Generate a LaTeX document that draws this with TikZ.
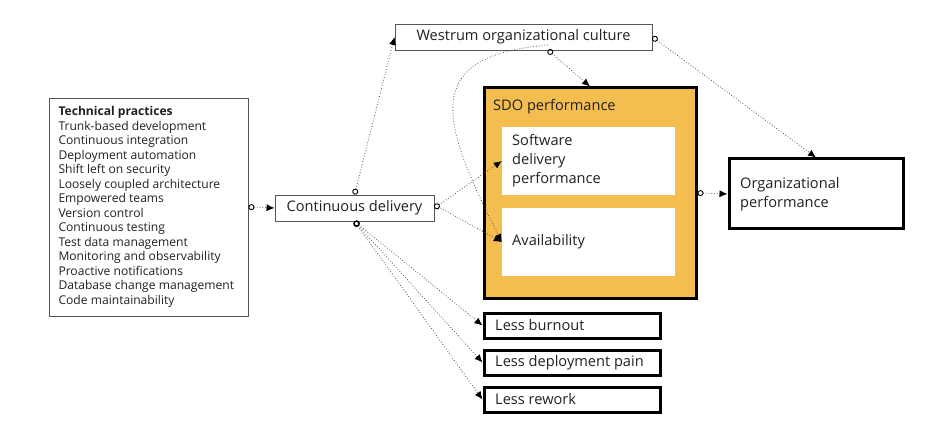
\documentclass[tikz,border=0pt]{standalone}
\usepackage{fontspec}
\setmainfont{Open Sans}
\usetikzlibrary{arrows.meta,calc}
\definecolor{sdo}{HTML}{F3BE4F}
\definecolor{txt}{HTML}{202124}
\definecolor{thin}{HTML}{555555}
\definecolor{conn}{HTML}{555555}
\begin{document}
\begin{tikzpicture}[x=1pt,y=-1pt,
  thinbox/.style={draw=thin,line width=0.9pt,fill=white,inner sep=0pt,text=txt},
  thickbox/.style={draw=black,line width=3pt,fill=white,inner sep=0pt,text=txt},
  conn/.style={draw=conn,line width=0.8pt,dash pattern=on 0.8pt off 2pt,
     {Circle[open,length=6pt,width=6pt,line width=0.9pt,black]}-{Latex[length=8pt,width=7pt,black]}},
  connb/.style={draw=conn,line width=0.8pt,dash pattern=on 0.8pt off 2pt,
     -{Latex[length=8pt,width=7pt,black]}},
  every node/.style={font=\fontsize{14.6}{19}\selectfont}]
\useasboundingbox (0,0) rectangle (925,435);
% technical practices
\node[thinbox,minimum width=199pt,minimum height=218pt,align=left,
  font=\fontsize{12.1}{14.5}\selectfont] (tech) at (148.5,207)
  {\begin{minipage}{180pt}\textbf{Technical practices}\\Trunk-based development\\Continuous integration\\Deployment automation\\Shift left on security\\Loosely coupled architecture\\Empowered teams\\Version control\\Continuous testing\\Test data management\\Monitoring and observability\\Proactive notifications\\Database change management\\Code maintainability\end{minipage}};
\node[thinbox,minimum width=159pt,minimum height=26pt] (cd) at (354.5,208) {Continuous delivery};
\node[thinbox,minimum width=257pt,minimum height=26pt] (west) at (523.5,37) {Westrum organizational culture};
% SDO
\node[draw=black,line width=3pt,fill=sdo,minimum width=212pt,minimum height=210pt,inner sep=0pt] (sdo) at (590,193) {};
\node[anchor=west,text=txt,inner sep=0pt] (sdol) at (493,107) {SDO performance};
\node[fill=white,minimum width=173pt,minimum height=68pt,inner sep=0pt] (sw) at (588.5,161) {};
\node[anchor=west,text=txt,align=left,inner sep=0pt] (swl) at (512,161) {Software\\delivery\\performance};
\node[fill=white,minimum width=173pt,minimum height=68pt,inner sep=0pt] (av) at (588.5,242) {};
\node[anchor=west,text=txt,inner sep=0pt] (avl) at (512,242) {Availability};
% organizational performance
\node[thickbox,minimum width=174pt,minimum height=70pt] (org) at (816,194) {};
\node[anchor=west,text=txt,align=left,inner sep=0pt] (orgl) at (740,194) {Organizational\\performance};
% outcomes
\node[thickbox,minimum width=176pt,minimum height=25pt] (lb) at (572,325.5) {};
\node[anchor=west,text=txt,inner sep=0pt] at (495,325.5) {Less burnout};
\node[thickbox,minimum width=176pt,minimum height=25pt] (ld) at (572,362.5) {};
\node[anchor=west,text=txt,inner sep=0pt] at (495,362.5) {Less deployment pain};
\node[thickbox,minimum width=176pt,minimum height=25pt] (lr) at (572,399.5) {};
\node[anchor=west,text=txt,inner sep=0pt] at (495,399.5) {Less rework};
% connectors
\draw[conn] (tech.east) -- (cd.west);
\draw[conn] (cd.north) -- (west.west);
\coordinate (wS) at (548,50);
\draw[conn] (wS) -- (sdo.north);
\draw[connb] ([yshift=5pt]wS) .. controls (420,56) and (440,120) .. (av.west);
\draw[conn] (west.east) -- (org.north);
\draw[conn] (cd.east) -- (sw.west);
\draw[connb] ([xshift=6pt]cd.east) -- (av.west);
\draw[conn] (sdo.east) -- (org.west);
\draw[conn] (cd.south) -- (lb.west);
\draw[conn] (cd.south) -- (ld.west);
\draw[conn] (cd.south) -- (lr.west);
\end{tikzpicture}
\end{document}
